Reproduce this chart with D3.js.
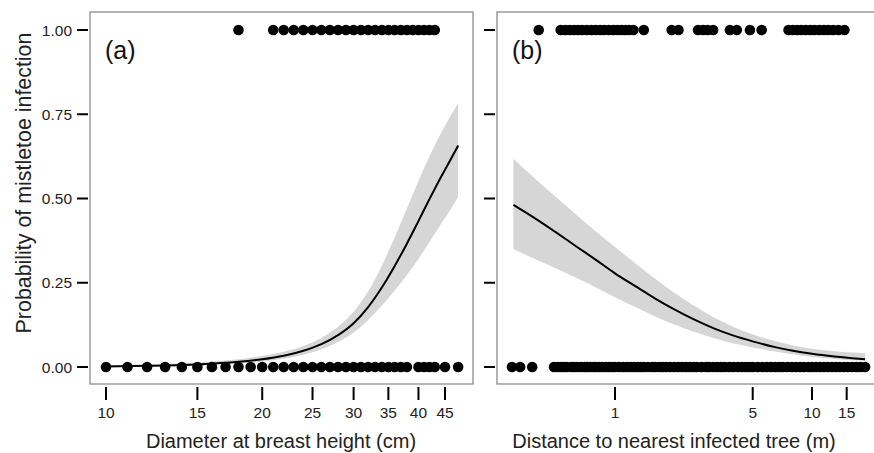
<!DOCTYPE html>
<html><head><meta charset="utf-8">
<script src="https://cdn.jsdelivr.net/npm/d3@7"></script>
<style>body{margin:0;background:#fff}svg{display:block;font-family:Arial,"Liberation Sans",sans-serif}</style>
</head><body>
<svg id="c" width="874" height="453"></svg>
<script>
// ---------- data ----------
// Panel (a): DBH (cm) of trees, infected (1) and not (0)
const dbhInfected = [18,21,22,23,24,25,26,27,28,29,30,31,32,33,34,35,36,37,38,39,40,41,42,43];
const dbhUninfected = [10,11,12,13,14,15,16,17,18,19,20,21,22,23,24,25,26,27,28,29,30,31,32,33,34,35,36,37,38,40,41,42,43,45,47.7];
// fitted curve and confidence band for (a)
const dbhCurveX  = [10,12,14,16,18,20,22,24,26,28,30,32,34,36,38,40,42,44,46,47.7];
const dbhCurveFit= [0.0018,0.0035,0.0060,0.0099,0.0153,0.0229,0.0334,0.048,0.0677,0.0946,0.130,0.178,0.236,0.300,0.366,0.433,0.498,0.558,0.612,0.657];
const dbhCurveLo = [0.0008,0.0017,0.0033,0.0060,0.0101,0.0161,0.0247,0.0366,0.0530,0.0745,0.1025,0.1397,0.1818,0.2267,0.2731,0.3208,0.3710,0.4192,0.4641,0.505];
const dbhCurveHi = [0.0041,0.0070,0.0109,0.0161,0.0231,0.0325,0.0450,0.0624,0.0862,0.1193,0.1638,0.2248,0.3008,0.3853,0.4703,0.5523,0.6253,0.6887,0.7419,0.7824];
const dbhTicks = [10,15,20,25,30,35,40,45];

// Panel (b): distance to nearest infected tree (m)
const distInfected = [0.41,0.53,0.56,0.59,0.62,0.65,0.68,0.72,0.76,0.8,0.84,0.88,0.93,0.98,1.03,1.08,1.13,1.18,1.24,1.40,
  1.94,2.1,2.64,2.8,2.95,3.15,3.83,4.15,4.84,5.55,
  7.6,8.0,8.4,8.8,9.3,9.8,10.3,10.9,11.5,12.1,12.8,13.6,14.6];
const distUninfected = [0.30,0.33,0.38,0.49,0.51,0.53,0.55,0.57,0.6,0.62,0.64,0.67,0.7,0.72,0.75,0.78,0.8,0.83,0.86,0.9,0.93,0.97,
  1.0,1.05,1.1,1.15,1.2,1.25,1.3,1.35,1.4,1.47,1.55,1.6,1.68,1.75,1.82,1.9,2.0,2.1,2.2,2.3,2.4,2.5,2.6,2.75,2.9,3.0,3.15,3.3,
  3.45,3.6,3.8,4.0,4.2,4.4,4.6,4.8,5.0,5.3,5.6,5.9,6.2,6.5,6.8,7.1,7.5,7.9,8.3,8.7,9.1,9.6,10.0,10.5,11.0,11.5,12.0,12.6,
  13.2,13.8,14.5,15.2,16.0,16.8,17.6,18.6];
const distCurveX  = [0.305,0.4,0.5,0.65,0.8,1,1.3,1.6,2,2.5,3.2,4,5,6.5,8,10,13,16,18.6];
const distCurveFit= [0.481,0.438,0.400,0.354,0.318,0.278,0.236,0.203,0.171,0.142,0.114,0.093,0.076,0.059,0.048,0.039,0.031,0.026,0.023];
const distCurveHi = [0.617,0.555,0.505,0.447,0.402,0.356,0.303,0.262,0.220,0.183,0.146,0.119,0.097,0.077,0.064,0.054,0.047,0.043,0.041];
const distCurveLo = [0.350,0.318,0.293,0.262,0.236,0.207,0.175,0.150,0.126,0.105,0.085,0.070,0.058,0.046,0.038,0.030,0.024,0.020,0.019];
const distTicks = [1,5,10,15];

const probTicks = [0,0.25,0.5,0.75,1];
const probLabels = ["0.00","0.25","0.50","0.75","1.00"];

// ---------- layout ----------
const svg = d3.select("#c");
const frameTop = 12, frameBottom = 384;
const y = d3.scaleLinear().domain([0,1]).range([367,30]);
const panels = [
  {left:90, right:473, titleX:281, x:d3.scaleLog().domain([10,45]).range([106,445]), ticks:dbhTicks,
   ones:dbhInfected, zeros:dbhUninfected, cx:dbhCurveX, fit:dbhCurveFit, lo:dbhCurveLo, hi:dbhCurveHi,
   tag:"(a)", title:"Diameter at breast height (cm)", labels:true},
  {left:497, right:877, titleX:674, x:d3.scaleLog().domain([1,10]).range([615,812]), ticks:distTicks,
   ones:distInfected, zeros:distUninfected, cx:distCurveX, fit:distCurveFit, lo:distCurveLo, hi:distCurveHi,
   tag:"(b)", title:"Distance to nearest infected tree (m)", labels:false}
];

panels.forEach(p => {
  const g = svg.append("g");
  const x = p.x;
  const area = d3.area().x((d,i)=>x(p.cx[i])).y0((d,i)=>y(p.lo[i])).y1((d,i)=>y(p.hi[i])).curve(d3.curveMonotoneX);
  g.append("path").attr("d", area(p.cx)).attr("fill","#d6d6d6");
  const line = d3.line().x((d,i)=>x(p.cx[i])).y((d,i)=>y(p.fit[i])).curve(d3.curveMonotoneX);
  g.append("path").attr("d", line(p.cx)).attr("fill","none").attr("stroke","#000").attr("stroke-width",2);
  g.selectAll("circle.one").data(p.ones).join("circle").attr("class","one")
    .attr("cx",d=>x(d)).attr("cy",y(1)).attr("r",5.3).attr("fill","#000");
  g.selectAll("circle.zero").data(p.zeros).join("circle").attr("class","zero")
    .attr("cx",d=>x(d)).attr("cy",y(0)).attr("r",5.3).attr("fill","#000");
  g.append("rect").attr("x",p.left).attr("y",frameTop).attr("width",p.right-p.left).attr("height",frameBottom-frameTop)
    .attr("fill","none").attr("stroke","#8c8c8c").attr("stroke-width",1.3);
  probTicks.forEach((t,i) => {
    g.append("line").attr("x1",p.left-13).attr("x2",p.left-2).attr("y1",y(t)).attr("y2",y(t))
      .attr("stroke","#000").attr("stroke-width",2);
    if (p.labels) g.append("text").attr("x",p.left-18).attr("y",y(t)).attr("dy","0.36em")
      .attr("text-anchor","end").attr("font-size",15.5).attr("fill","#222").text(probLabels[i]);
  });
  p.ticks.forEach(t => {
    g.append("line").attr("x1",x(t)).attr("x2",x(t)).attr("y1",frameBottom+3).attr("y2",frameBottom+16)
      .attr("stroke","#000").attr("stroke-width",2);
    g.append("text").attr("x",x(t)).attr("y",frameBottom+34).attr("text-anchor","middle")
      .attr("font-size",15.5).attr("fill","#222").text(t);
  });
  g.append("text").attr("x",p.left+15).attr("y",59).attr("font-size",25).attr("fill","#111").text(p.tag);
  g.append("text").attr("x",p.titleX).attr("y",448).attr("text-anchor","middle")
    .attr("font-size",20).attr("fill","#222").text(p.title);
});
svg.append("text").attr("transform","translate(31,183) rotate(-90)").attr("text-anchor","middle")
  .attr("font-size",21.4).attr("fill","#222").text("Probability of mistletoe infection");
</script>
</body></html>
